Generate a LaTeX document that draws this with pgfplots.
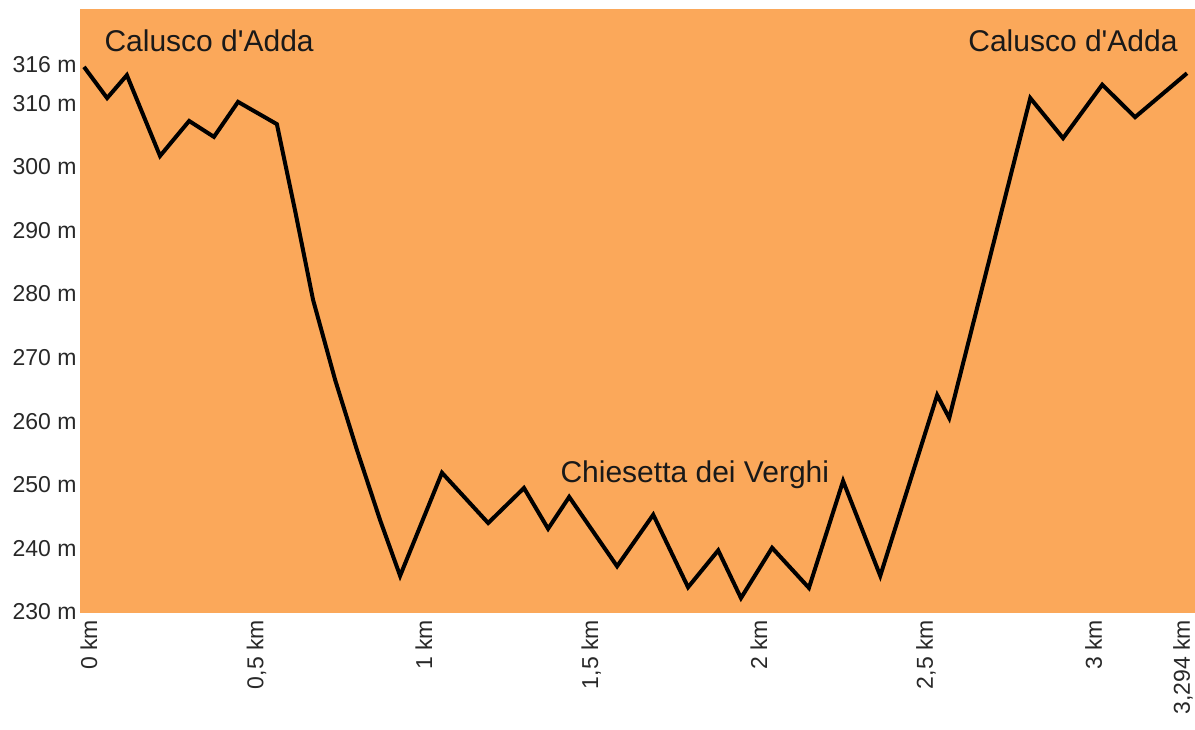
\documentclass[border=0pt]{standalone}
\usepackage{pgfplots}
\pgfplotsset{compat=1.18}
\usepackage{fontspec}
\setmainfont{Liberation Sans}
\usetikzlibrary{calc}

\definecolor{profilefill}{RGB}{251,168,90}
\definecolor{ticktext}{RGB}{40,40,40}
\newcommand\lastkm{3,294 km}

\begin{document}
\begin{tikzpicture}
\begin{axis}[
scale only axis,
width=557.5pt, height=302pt,
xmin=-0.012, xmax=3.318,
ymin=229.85, ymax=324.8,
axis background/.style={fill=profilefill},
axis line style={draw=none},
major tick length=0pt,
tick style={draw=none},
xtick={0,0.5,1,1.5,2,2.5,3},
xticklabels={0 km,{0,5 km},1 km,{1,5 km},2 km,{2,5 km},3 km},
extra x ticks={3.294},
extra x tick labels={\lastkm},
extra x tick style={xticklabel style={yshift=4.5pt}},
ytick={230,240,250,260,270,280,290,300,310,316},
yticklabels={230 m,240 m,250 m,260 m,270 m,280 m,290 m,300 m,310 m,316 m},
xticklabel style={rotate=90, anchor=east, yshift=-2.5pt, font=\fontsize{11.5}{13}\selectfont, text=ticktext},
yticklabel style={anchor=east, inner sep=1.5pt, font=\fontsize{11.5}{13}\selectfont, text=ticktext},
clip=false,
]
\addplot [black, line width=2pt, line join=miter] table {%
0.000 315.7
0.069 310.8
0.128 314.4
0.227 301.7
0.314 307.2
0.388 304.7
0.460 310.2
0.576 306.7
0.630 293.2
0.684 279.1
0.750 266.5
0.815 255.5
0.884 244.5
0.944 235.7
1.069 251.9
1.207 244.0
1.314 249.5
1.386 243.1
1.449 248.1
1.592 237.2
1.700 245.3
1.804 233.9
1.894 239.7
1.962 232.2
2.055 240.1
2.165 233.8
2.267 250.6
2.378 235.7
2.548 264.1
2.584 260.5
2.826 310.8
2.924 304.5
3.041 312.9
3.139 307.8
3.294 314.7
};
\node[anchor=base west, inner sep=0pt, font=\fontsize{15}{17}\selectfont, text=black!90]
  at (axis cs:0.060,318.1) {Calusco d\textquotesingle Adda};
\node[anchor=base west, inner sep=0pt, font=\fontsize{15}{17}\selectfont, text=black!90]
  at (axis cs:2.640,318.1) {Calusco d\textquotesingle Adda};
\node[anchor=base west, inner sep=0pt, font=\fontsize{15}{17}\selectfont, text=black!90]
  at (axis cs:1.422,250.4) {Chiesetta dei Verghi};
\coordinate (SW) at (rel axis cs:0,0);
\coordinate (NE) at (rel axis cs:1,1);
\end{axis}
\pgfresetboundingbox
\path ($(SW)+(-40pt,-58pt)$) rectangle ($(NE)+(0pt,4.5pt)$);
\end{tikzpicture}
\end{document}
